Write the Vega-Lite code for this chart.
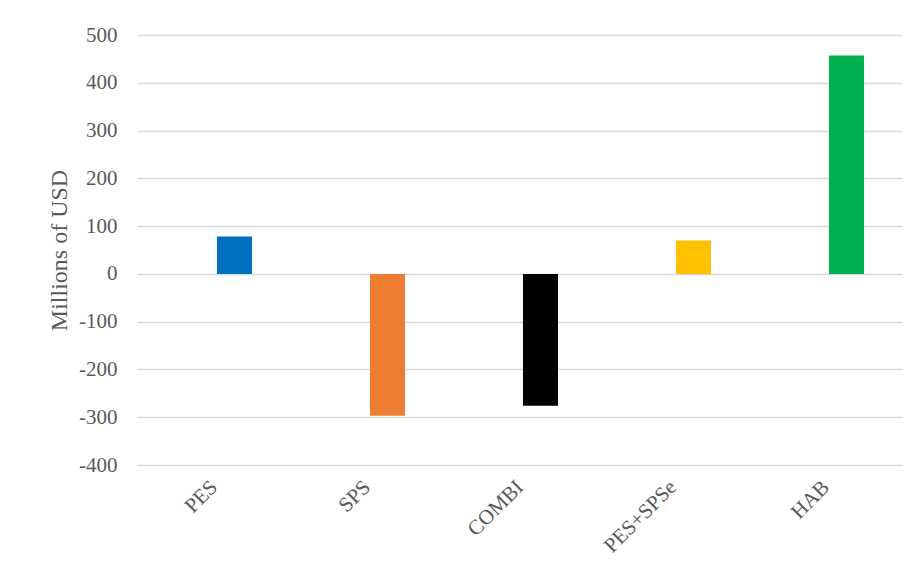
{
  "$schema": "https://vega.github.io/schema/vega-lite/v6.json",
  "width": 765,
  "height": 430,
  "autosize": {"type": "none"},
  "padding": {"left": 137, "top": 35, "right": 15, "bottom": 114},
  "background": "white",
  "config": {"view": {"stroke": null}, "font": "Liberation Serif"},
  "data": {"values": [
    {"scheme": "PES", "value": 78, "color": "#0070C0"},
    {"scheme": "SPS", "value": -297, "color": "#ED7D31"},
    {"scheme": "COMBI", "value": -276, "color": "#000000"},
    {"scheme": "PES+SPSe", "value": 70, "color": "#FFC000"},
    {"scheme": "HAB", "value": 457, "color": "#00B050"}
  ]},
  "mark": {"type": "bar"},
  "encoding": {
    "x": {
      "field": "scheme", "type": "nominal", "sort": null,
      "scale": {"paddingInner": 0.771, "paddingOuter": 0.3855, "align": 0.678},
      "axis": {
        "title": null, "labelAngle": -45, "labelFont": "Liberation Serif", "labelFontSize": 21,
        "labelColor": "#595959", "domain": false, "ticks": false, "labelPadding": 11,
        "labelOffset": -28, "grid": false
      }
    },
    "y": {
      "field": "value", "type": "quantitative",
      "scale": {"domain": [-400, 500], "nice": false},
      "axis": {
        "title": "Millions of USD", "titleFont": "Liberation Serif", "titleFontSize": 24,
        "titleFontWeight": "normal", "titleColor": "#595959", "titlePadding": 7,
        "values": [-400, -300, -200, -100, 0, 100, 200, 300, 400, 500],
        "labelExpr": "'' + datum.value",
        "labelFont": "Liberation Serif", "labelFontSize": 21, "labelColor": "#595959",
        "labelPadding": 20, "domain": false, "ticks": false,
        "grid": true, "gridColor": "#d9d9d9", "gridWidth": 1.3
      }
    },
    "color": {"field": "color", "type": "nominal", "scale": null, "legend": null}
  }
}
